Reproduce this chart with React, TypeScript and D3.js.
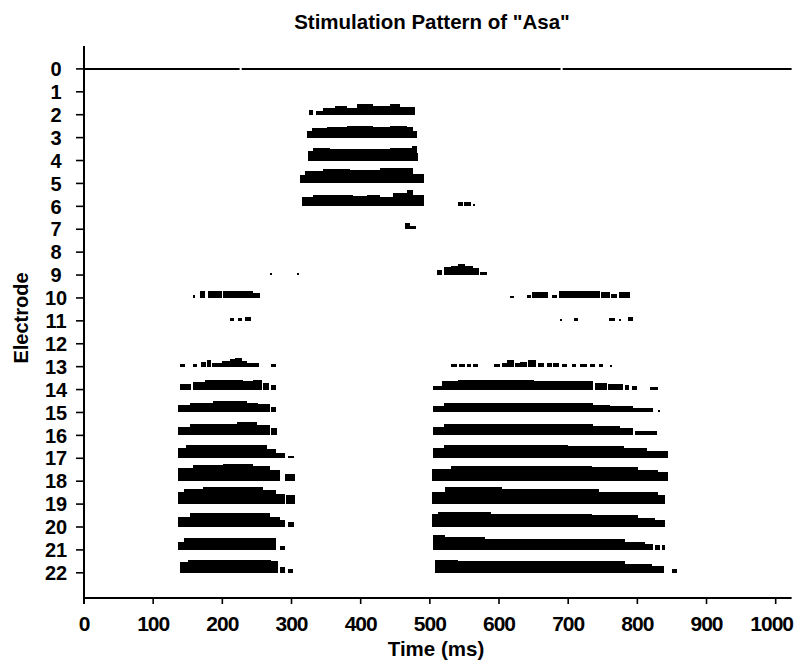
import React from 'react';
import * as d3 from 'd3';

// Electrode rows 0..22 and time ticks (ms)
const electrodes: number[] = d3.range(0, 23);
const timeTicks: number[] = [0, 100, 200, 300, 400, 500, 600, 700, 800, 900, 1000];

// Electrode 0: continuous reference trace [startMs, endMs]
const e0: [number, number][] = [[0, 225], [228, 689], [692, 1023]];

// Stimulation pulse groups per electrode: [startMs, endMs, level]
const e2: [number, number, number][] = [[325, 331, 5], [335, 346, 4], [346, 363, 7], [363, 380, 9], [380, 394, 7], [394, 418, 10.5], [418, 442, 9], [442, 457, 11], [457, 479, 8]];
const e3: [number, number, number][] = [[322, 329, 7], [329, 351, 10], [351, 380, 11], [380, 418, 12], [418, 442, 11], [442, 467, 12], [467, 476, 11], [476, 481, 7]];
const e4: [number, number, number][] = [[324, 331, 10], [331, 356, 13], [356, 404, 12], [404, 442, 12], [442, 474, 13], [474, 481, 15], [481, 483, 8]];
const e5: [number, number, number][] = [[312, 320, 8], [320, 346, 12], [346, 385, 14], [385, 428, 13], [428, 476, 15], [476, 491, 9]];
const e6: [number, number, number][] = [[315, 331, 9], [331, 360, 11], [360, 389, 11], [389, 409, 10], [409, 428, 11], [428, 447, 9], [447, 467, 13], [467, 476, 16], [476, 491, 11], [540, 548, 4], [549, 559, 4], [563, 565, 2]];
const e7: [number, number, number][] = [[464, 472, 6], [472, 480, 3]];
const e9: [number, number, number][] = [[269, 272, 2], [308, 311, 2], [511, 517, 5], [520, 531, 8], [531, 541, 9], [541, 551, 11], [551, 563, 9], [563, 571, 7], [573, 582, 3]];
const e10: [number, number, number][] = [[157, 161, 3], [167, 175, 7], [179, 199, 7], [201, 245, 7], [245, 254, 5], [616, 622, 2], [641, 646, 3], [648, 671, 6], [676, 684, 3], [686, 746, 7], [748, 760, 6], [762, 771, 4], [774, 790, 6]];
const e11: [number, number, number][] = [[211, 217, 3], [222, 228, 3], [233, 241, 4], [688, 691, 2], [708, 714, 3], [759, 768, 3], [773, 776, 2], [786, 793, 4]];
const e13: [number, number, number][] = [[139, 146, 3], [157, 163, 3], [169, 176, 5], [178, 183, 7], [185, 199, 4], [200, 211, 6], [211, 219, 8], [219, 228, 9], [228, 236, 6], [236, 253, 4], [271, 278, 2.5], [530, 539, 3], [542, 551, 3], [553, 560, 3], [563, 570, 3], [593, 601, 3], [604, 612, 4], [612, 622, 7], [623, 630, 4], [630, 641, 5], [642, 654, 7], [657, 665, 4], [669, 676, 4], [678, 686, 4], [691, 698, 3], [705, 712, 3], [717, 727, 3], [732, 739, 3], [744, 751, 3], [760, 763, 2]];
const e14: [number, number, number][] = [[139, 154, 6], [158, 175, 8], [175, 200, 10], [200, 230, 10], [230, 245, 9], [245, 257, 10], [259, 268, 7], [270, 278, 5], [505, 517, 4], [517, 540, 9], [540, 600, 10], [600, 650, 10], [650, 700, 9], [700, 736, 9], [739, 756, 7], [758, 779, 6], [782, 788, 5], [792, 799, 4], [818, 830, 3]];
const e15: [number, number, number][] = [[136, 153, 7.5], [153, 187, 10], [187, 235, 12], [235, 252, 10], [252, 269, 9], [271, 278, 5], [505, 520, 7], [520, 703, 10], [703, 736, 10], [736, 760, 8], [760, 794, 7], [794, 823, 4], [830, 833, 2]];
const e16: [number, number, number][] = [[136, 153, 8], [153, 221, 11], [221, 250, 13], [250, 269, 10], [271, 279, 7], [505, 520, 8], [520, 736, 11], [736, 775, 9], [775, 794, 7], [797, 828, 4]];
const e17: [number, number, number][] = [[136, 148, 10], [148, 264, 13], [264, 278, 9], [278, 291, 5], [295, 304, 2.5], [505, 520, 10], [520, 700, 13], [700, 780, 12], [780, 814, 10], [814, 845, 7]];
const e18: [number, number, number][] = [[136, 158, 13], [158, 201, 16], [201, 245, 17], [245, 269, 15], [269, 283, 11], [291, 305, 7], [503, 531, 12], [531, 613, 15], [613, 734, 15], [734, 801, 14], [801, 830, 11], [830, 845, 9]];
const e19: [number, number, number][] = [[136, 144, 12], [144, 172, 15], [172, 259, 17], [259, 278, 14], [278, 290, 10], [292, 305, 9], [503, 522, 12], [522, 604, 17], [604, 744, 15], [744, 830, 12], [830, 840, 9]];
const e20: [number, number, number][] = [[136, 153, 10], [153, 269, 14], [269, 283, 10], [283, 291, 7], [295, 304, 5], [503, 512, 13], [512, 589, 15], [589, 734, 13], [734, 801, 12], [801, 826, 9], [826, 840, 7]];
const e21: [number, number, number][] = [[136, 144, 8], [144, 278, 12], [283, 291, 4], [505, 522, 15], [522, 580, 13], [580, 686, 11], [686, 782, 11], [782, 811, 8], [811, 822, 6], [826, 833, 5], [835, 840, 5]];
const e22: [number, number, number][] = [[139, 150, 11], [150, 270, 13], [270, 281, 12], [283, 291, 6], [295, 302, 4], [507, 541, 13], [541, 782, 12], [782, 821, 9], [821, 838, 7], [850, 857, 4]];

const pulseRows: [number, [number, number, number][]][] = [
  [2, e2], [3, e3], [4, e4], [5, e5], [6, e6], [7, e7], [9, e9], [10, e10], [11, e11],
  [13, e13], [14, e14], [15, e15], [16, e16], [17, e17], [18, e18], [19, e19], [20, e20], [21, e21], [22, e22],
];

const W = 798;
const H = 665;
const FONT = '"Liberation Sans", Arial, sans-serif';

export default function App() {
  const x = d3.scaleLinear().domain([0, 1023]).range([84, 791.6]);
  const y = d3.scaleLinear().domain([-1, 23.1]).range([46, 598]);
  const rowStep = y(1) - y(0);
  const amp = d3.scaleLinear().domain([0, 23]).range([0, rowStep]);
  const x0 = x(0);
  const yBottom = y(23.1);
  const yTop = y(-1);

  return (
    <svg width={W} height={H} style={{ position: 'absolute', left: 0, top: 0, background: '#fff' }}
      fontFamily={FONT}>
      <rect x={0} y={0} width={W} height={H} fill="#fff" />
      <text x={432} y={29} textAnchor="middle" fontSize={20.5} fontWeight="bold">
        Stimulation Pattern of "Asa"
      </text>

      {/* pulses */}
      {pulseRows.map(([row, groups]) => (
        <g key={row}>
          {groups.map(([s, e, a], i) => (
            <rect key={i} x={x(s)} width={Math.max(1, x(e) - x(s))}
              y={y(row) - amp(a)} height={amp(a)} fill="#000" shapeRendering="crispEdges" />
          ))}
        </g>
      ))}

      {/* electrode 0 trace */}
      {e0.map(([s, e], i) => (
        <line key={i} x1={x(s)} x2={x(e)} y1={y(0)} y2={y(0)} stroke="#000" strokeWidth={2} />
      ))}

      {/* axes */}
      <line x1={x0} x2={x0} y1={yTop} y2={yBottom + 6} stroke="#000" strokeWidth={2} />
      <line x1={x0} x2={x(1023)} y1={yBottom} y2={yBottom} stroke="#000" strokeWidth={2} />

      {electrodes.map((e) => (
        <g key={e}>
          <line x1={x0 - 8} x2={x0} y1={y(e)} y2={y(e)} stroke="#000" strokeWidth={1.6} />
          <text x={56} y={y(e)} dy="0.36em" textAnchor="middle" fontSize={20} fontWeight="bold">
            {e}
          </text>
        </g>
      ))}

      {timeTicks.map((t) => (
        <g key={t}>
          <line x1={x(t)} x2={x(t)} y1={yBottom} y2={yBottom + 6} stroke="#000" strokeWidth={1.6} />
          <text x={t === 1000 ? x(t) - 4 : x(t)} y={631} textAnchor="middle" fontSize={21}
            fontWeight="bold" letterSpacing={-1}>
            {t}
          </text>
        </g>
      ))}

      <text x={436} y={656} textAnchor="middle" fontSize={20.5} fontWeight="bold">Time (ms)</text>
      <text transform="translate(28,318) rotate(-90)" textAnchor="middle" fontSize={20} fontWeight="bold">
        Electrode
      </text>
    </svg>
  );
}
